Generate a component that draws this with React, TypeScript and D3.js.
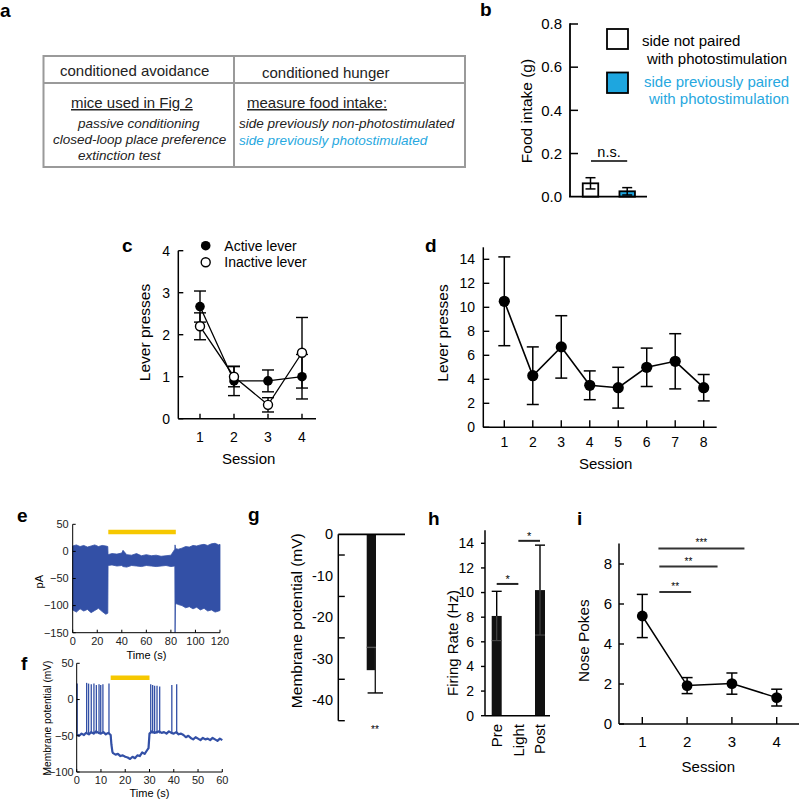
import React from "react";
import * as d3 from "d3";

const FONT = "'Liberation Sans', Arial, Helvetica, sans-serif";
const CYAN = "#1ea6df";
const CYAN_TXT = "#27a8e0";
const TRACE = "#3350a6";
const YELLOW = "#f6c800";

// ---------- a: table ----------
const tableHeaders = ["conditioned avoidance", "conditioned hunger"];
const tableLeftTitle = "mice used in Fig 2";
const tableLeftItems = ["passive conditioning", "closed-loop place preference", "extinction test"];
const tableRightTitle = "measure food intake:";
const tableRightItems = ["side previously non-photostimulated", "side previously photostimulated"];

// ---------- b ----------
const bLegendA = ["side not paired", "with photostimulation"];
const bLegendB = ["side previously paired", "with photostimulation"];
const bGroups = [0, 1];
const bMeans = [0.062, 0.025];
const bErr = [0.026, 0.017];
const bTicks = [0, 0.2, 0.4, 0.6, 0.8];

// ---------- c ----------
const cSessions = [1, 2, 3, 4];
const cActive = [2.67, 0.9, 0.9, 1.0];
const cActiveErr = [0.37, 0.35, 0.26, 0.53];
const cInactive = [2.2, 1.0, 0.33, 1.57];
const cInactiveErr = [0.32, 0.24, 0.17, 0.84];
const cTicks = [0, 1, 2, 3, 4];

// ---------- d ----------
const dSessions = [1, 2, 3, 4, 5, 6, 7, 8];
const dMeans = [10.5, 4.3, 6.7, 3.5, 3.3, 5.0, 5.5, 3.3];
const dErr = [3.7, 2.4, 2.6, 1.2, 1.7, 1.6, 2.3, 1.1];
const dTicks = [0, 2, 4, 6, 8, 10, 12, 14];

// ---------- e (current trace envelope, pA) ----------
const eTime = [0, 3, 6, 9, 12, 15, 18, 21, 24, 27, 28.6, 28.8, 32, 36, 40, 41, 44, 48, 52, 56, 60, 64, 68, 72, 76, 80, 83.2, 83.4, 83.7, 84.2, 86, 89, 92, 95, 98, 101, 104, 107, 110, 113, 116, 119, 120];
const eUpper = [10, 12, 9, 11, 8, 10, 12, 9, 11, 10, 9, -6, -4, -5, -3, 2, -6, -7, -4, -8, -6, -8, -7, -9, -8, -7, 4, 12, 6, 5, 4, 6, 9, 8, 11, 10, 12, 13, 11, 14, 15, 12, 13];
const eLower = [-108, -112, -106, -110, -107, -113, -109, -105, -111, -116, -114, -26, -25, -27, -26, -28, -29, -26, -27, -28, -26, -27, -28, -27, -26, -28, -27, -150, -100, -96, -98, -100, -104, -102, -106, -103, -108, -105, -110, -108, -112, -110, -109];
const eXTicks = [0, 20, 40, 60, 80, 100, 120];
const eYTicks = [-150, -100, -50, 0, 50];
const eLight = [29, 84];
const eLightLevel = 36;

// ---------- f (membrane potential trace, mV) ----------
const fTime = [0, 1, 2, 3, 3.8, 5, 6, 7, 8, 9, 10, 11, 12, 13, 14, 14.3, 14.7, 15, 16, 17, 18, 19, 20, 21, 22, 23, 24, 25, 26, 27, 28, 29, 29.6, 30, 31, 32, 33, 34, 35, 36, 37, 38, 39, 40, 41, 42, 43, 44, 45, 46, 47, 48, 49, 50, 51, 52, 53, 54, 55, 56, 57, 58, 59, 60];
const fVm = [-48, -50, -47, -49, -46, -48, -45, -47, -44, -46, -47, -45, -48, -46, -49, -62, -72, -74, -76, -75, -78, -77, -79, -80, -82, -79, -81, -77, -78, -73, -75, -70, -67, -47, -44, -46, -45, -44, -46, -45, -47, -44, -46, -47, -45, -48, -47, -49, -52, -50, -53, -55, -52, -54, -56, -53, -55, -54, -56, -53, -55, -57, -54, -56];
const fSpikeTimes = [0.2, 4.1, 4.9, 6.0, 7.1, 8.1, 9.2, 9.9, 10.8, 13.3, 30.5, 31.3, 32.1, 33.1, 34.2, 39.2, 41.2];
const fSpikePeaks = [22, 23, 22, 21, 22, 20, 21, 20, 21, 22, 21, 20, 19, 19, 18, 20, 21];
const fXTicks = [0, 10, 20, 30, 40, 50, 60];
const fYTicks = [-100, -50, 0, 50];
const fLight = [14, 30];
const fLightLevel = 30;

// ---------- g ----------
const gMean = -32.8;
const gErr = 5.5;
const gLabelTicks = [0, -10, -20, -30, -40];
const gMinorTicks = [-5, -15, -25, -35, -45];

// ---------- h ----------
const hCats = ["Pre", "Light", "Post"];
const hMeans = [8.1, 0.05, 10.2];
const hErr = [2.0, 0, 3.65];
const hTicks = [0, 2, 4, 6, 8, 10, 12, 14];
const hSig = [{ from: "Pre", to: "Light", level: 10.7, label: "*" }, { from: "Light", to: "Post", level: 14.2, label: "*" }];

// ---------- i ----------
const iSessions = [1, 2, 3, 4];
const iMeans = [5.4, 1.92, 2.02, 1.32];
const iErr = [1.08, 0.4, 0.53, 0.42];
const iTicks = [0, 2, 4, 6, 8];
const iSig = [
  { from: 1.38, to: 2.09, level: 6.6, label: "**" },
  { from: 1.38, to: 2.68, level: 7.87, label: "**" },
  { from: 1.36, to: 3.28, level: 8.78, label: "***" },
];

const PanelLabel = ({ x, y, t }: { x: number; y: number; t: string }) => (
  <text x={x} y={y} fontSize={19} fontWeight="bold" fontFamily={FONT}>{t}</text>
);

const YTitle = ({ cx, cy, size, t }: { cx: number; cy: number; size: number; t: string }) => (
  <text transform={`translate(${cx + size * 0.35},${cy}) rotate(-90)`} textAnchor="middle" fontSize={size} fontFamily={FONT}>{t}</text>
);

function PanelA() {
  const L = 43.5, R = 465, T = 56, M = 83, B = 167, C = 234;
  return (
    <g fontFamily={FONT}>
      <PanelLabel x={0} y={17} t="a" />
      <rect x={L} y={T} width={R - L} height={B - T} fill="none" stroke="#9a9a9a" strokeWidth={2} />
      <line x1={L} x2={R} y1={M} y2={M} stroke="#9a9a9a" strokeWidth={2} />
      <line x1={C} x2={C} y1={T} y2={B} stroke="#9a9a9a" strokeWidth={2} />
      <text x={60} y={76} fontSize={15} fill="#222">{tableHeaders[0]}</text>
      <text x={262} y={78} fontSize={15} fill="#222">{tableHeaders[1]}</text>
      <text x={71} y={108} fontSize={15} fill="#222" style={{ textDecoration: "underline" }}>{tableLeftTitle}</text>
      <text x={78} y={128} fontSize={13.5} fontStyle="italic" fill="#222">{tableLeftItems[0]}</text>
      <text x={53} y={144} fontSize={13.5} fontStyle="italic" fill="#222">{tableLeftItems[1]}</text>
      <text x={78} y={160} fontSize={13.5} fontStyle="italic" fill="#222">{tableLeftItems[2]}</text>
      <text x={247} y={108} fontSize={15} fill="#222" style={{ textDecoration: "underline" }}>{tableRightTitle}</text>
      <text x={239} y={128} fontSize={13.5} fontStyle="italic" fill="#222">{tableRightItems[0]}</text>
      <text x={239} y={145} fontSize={13.5} fontStyle="italic" fill={CYAN_TXT}>{tableRightItems[1]}</text>
    </g>
  );
}

function PanelB() {
  const y = d3.scaleLinear().domain([0, 0.8]).range([196.7, 24]);
  const x = d3.scalePoint<number>().domain(bGroups).range([590.5, 627.2]);
  const bw = 15.5;
  const fills = ["#fff", CYAN];
  return (
    <g fontFamily={FONT}>
      <PanelLabel x={480} y={16} t="b" />
      {bGroups.map((g, i) => (
        <g key={g}>
          <rect x={x(g)! - bw / 2} y={y(bMeans[i])} width={bw} height={y(0) - y(bMeans[i])} fill={fills[i]} stroke="#000" strokeWidth={1.8} />
          <line x1={x(g)} x2={x(g)} y1={y(bMeans[i] + bErr[i])} y2={y(bMeans[i] - bErr[i])} stroke="#000" strokeWidth={1.5} />
          <line x1={x(g)! - 5} x2={x(g)! + 5} y1={y(bMeans[i] + bErr[i])} y2={y(bMeans[i] + bErr[i])} stroke="#000" strokeWidth={1.5} />
          <line x1={x(g)! - 5} x2={x(g)! + 5} y1={y(bMeans[i] - bErr[i])} y2={y(bMeans[i] - bErr[i])} stroke="#000" strokeWidth={1.5} />
        </g>
      ))}
      <line x1={570} x2={570} y1={y(0.8) - 0.7} y2={y(0)} stroke="#000" strokeWidth={1.8} />
      <line x1={569} x2={647} y1={y(0)} y2={y(0)} stroke="#000" strokeWidth={1.8} />
      {bTicks.map((t) => (
        <g key={t}>
          {t > 0 && <line x1={570} x2={578} y1={y(t)} y2={y(t)} stroke="#000" strokeWidth={1.5} />}
          <text x={562} y={y(t)} dy="0.35em" textAnchor="end" fontSize={15}>{t.toFixed(1)}</text>
        </g>
      ))}
      <YTitle cx={527} cy={111} size={15.5} t="Food intake (g)" />
      <text x={609} y={157} textAnchor="middle" fontSize={14.5}>n.s.</text>
      <line x1={x(0)! + 0.5} x2={x(1)!} y1={161} y2={161} stroke="#000" strokeWidth={1.5} />
      <rect x={607} y={29} width={21} height={20} fill="#fff" stroke="#000" strokeWidth={1.8} />
      <rect x={607} y={72.5} width={21} height={20.5} fill={CYAN} stroke="#000" strokeWidth={1.8} />
      <text x={642} y={46} fontSize={15}>{bLegendA[0]}</text>
      <text x={647} y={64} fontSize={15}>{bLegendA[1]}</text>
      <text x={644} y={87} fontSize={15} fill={CYAN_TXT}>{bLegendB[0]}</text>
      <text x={649} y={104} fontSize={15} fill={CYAN_TXT}>{bLegendB[1]}</text>
    </g>
  );
}

function PanelC() {
  const x = d3.scaleLinear().domain([1, 4]).range([200, 302]);
  const y = d3.scaleLinear().domain([0, 4]).range([418.7, 250.7]);
  const ax = 178.3;
  const line = (vals: number[]) => d3.line<number>().x((_, i) => x(cSessions[i])).y((d) => y(d))(vals) || "";
  const errs = (vals: number[], e: number[]) =>
    vals.map((v, i) => {
      const cx = x(cSessions[i]);
      return (
        <g key={i} stroke="#000" strokeWidth={1.4}>
          <line x1={cx} x2={cx} y1={y(v + e[i])} y2={y(v - e[i])} />
          <line x1={cx - 6} x2={cx + 6} y1={y(v + e[i])} y2={y(v + e[i])} />
          <line x1={cx - 6} x2={cx + 6} y1={y(v - e[i])} y2={y(v - e[i])} />
        </g>
      );
    });
  return (
    <g fontFamily={FONT}>
      <PanelLabel x={122} y={252} t="c" />
      <line x1={ax} x2={ax} y1={y(4)} y2={y(0)} stroke="#000" strokeWidth={1.5} />
      <line x1={ax} x2={316} y1={y(0)} y2={y(0)} stroke="#000" strokeWidth={1.5} />
      {cTicks.map((t) => (
        <g key={t}>
          <line x1={ax} x2={ax + 5} y1={y(t)} y2={y(t)} stroke="#000" strokeWidth={1.4} />
          <text x={170} y={y(t)} dy="0.35em" textAnchor="end" fontSize={14}>{t}</text>
        </g>
      ))}
      {cSessions.map((s) => (
        <g key={s}>
          <line x1={x(s)} x2={x(s)} y1={y(0)} y2={y(0) - 5} stroke="#000" strokeWidth={1.4} />
          <text x={x(s)} y={442.3} textAnchor="middle" fontSize={14}>{s}</text>
        </g>
      ))}
      <text x={248.7} y={464.3} textAnchor="middle" fontSize={15}>Session</text>
      <YTitle cx={145} cy={332.5} size={15.5} t="Lever presses" />
      <path d={line(cActive)} fill="none" stroke="#000" strokeWidth={1.3} />
      <path d={line(cInactive)} fill="none" stroke="#000" strokeWidth={1.3} />
      {errs(cActive, cActiveErr)}
      {errs(cInactive, cInactiveErr)}
      {cActive.map((v, i) => <circle key={"a" + i} cx={x(cSessions[i])} cy={y(v)} r={4.8} fill="#000" />)}
      {cInactive.map((v, i) => <circle key={"b" + i} cx={x(cSessions[i])} cy={y(v)} r={4.5} fill="#fff" stroke="#000" strokeWidth={1.4} />)}
      <circle cx={205.7} cy={245.7} r={4.8} fill="#000" />
      <text x={224.3} y={250.5} fontSize={14}>Active lever</text>
      <circle cx={205.7} cy={262.3} r={4.5} fill="#fff" stroke="#000" strokeWidth={1.4} />
      <text x={224.3} y={267} fontSize={14}>Inactive lever</text>
    </g>
  );
}

function PanelD() {
  const x = d3.scaleLinear().domain([1, 8]).range([504.3, 703.7]);
  const y = d3.scaleLinear().domain([0, 14]).range([427.3, 259.3]);
  const ax = 483.3;
  const path = d3.line<number>().x((_, i) => x(dSessions[i])).y((d) => y(d))(dMeans) || "";
  return (
    <g fontFamily={FONT}>
      <PanelLabel x={425} y={252} t="d" />
      <line x1={ax} x2={ax} y1={y(15)} y2={y(0)} stroke="#000" strokeWidth={1.5} />
      <line x1={ax} x2={716.7} y1={y(0)} y2={y(0)} stroke="#000" strokeWidth={1.5} />
      {dTicks.map((t) => (
        <g key={t}>
          <line x1={ax} x2={ax + 6} y1={y(t)} y2={y(t)} stroke="#000" strokeWidth={1.4} />
          <text x={475} y={y(t)} dy="0.35em" textAnchor="end" fontSize={14}>{t}</text>
        </g>
      ))}
      {dSessions.map((s) => (
        <g key={s}>
          <line x1={x(s)} x2={x(s)} y1={y(0)} y2={y(0) - 7} stroke="#000" strokeWidth={1.4} />
          <text x={x(s)} y={447} textAnchor="middle" fontSize={14}>{s}</text>
        </g>
      ))}
      <text x={605.7} y={469} textAnchor="middle" fontSize={15}>Session</text>
      <YTitle cx={443} cy={333} size={15.5} t="Lever presses" />
      <path d={path} fill="none" stroke="#000" strokeWidth={1.6} />
      {dMeans.map((v, i) => {
        const cx = x(dSessions[i]);
        return (
          <g key={i} stroke="#000" strokeWidth={1.5}>
            <line x1={cx} x2={cx} y1={y(v + dErr[i])} y2={y(v - dErr[i])} />
            <line x1={cx - 6} x2={cx + 6} y1={y(v + dErr[i])} y2={y(v + dErr[i])} />
            <line x1={cx - 6} x2={cx + 6} y1={y(v - dErr[i])} y2={y(v - dErr[i])} />
          </g>
        );
      })}
      {dMeans.map((v, i) => <circle key={i} cx={x(dSessions[i])} cy={y(v)} r={5.6} fill="#000" />)}
    </g>
  );
}

function PanelE() {
  const x = d3.scaleLinear().domain([0, 120]).range([72.7, 220]);
  const y = d3.scaleLinear().domain([-150, 50]).range([632.7, 524.3]);
  const area = d3.area<number>().x((_, i) => x(eTime[i])).y0((_, i) => y(eLower[i])).y1((d) => y(d))(eUpper) || "";
  const fmt = d3.format("");
  return (
    <g fontFamily={FONT}>
      <PanelLabel x={17} y={522} t="e" />
      <path d={area} fill={TRACE} stroke={TRACE} strokeWidth={0.8} />
      <line x1={x(eLight[0])} x2={x(eLight[1])} y1={y(eLightLevel)} y2={y(eLightLevel)} stroke={YELLOW} strokeWidth={4.5} />
      <line x1={x(0)} x2={x(0)} y1={y(50)} y2={y(-150)} stroke="#000" strokeWidth={1} />
      <line x1={x(0)} x2={x(120)} y1={y(-150)} y2={y(-150)} stroke="#000" strokeWidth={1} />
      {eYTicks.map((t) => (
        <g key={t}>
          <line x1={x(0)} x2={x(0) + 3} y1={y(t)} y2={y(t)} stroke="#000" />
          <text x={x(0) - 4} y={y(t)} dy="0.35em" textAnchor="end" fontSize={11} fill="#222">{fmt(t)}</text>
        </g>
      ))}
      {eXTicks.map((t) => (
        <g key={t}>
          <line x1={x(t)} x2={x(t)} y1={y(-150)} y2={y(-150) - 3} stroke="#000" />
          <text x={x(t)} y={645} textAnchor="middle" fontSize={11} fill="#222">{t}</text>
        </g>
      ))}
      <text x={146.5} y={659} textAnchor="middle" fontSize={11}>Time (s)</text>
      <YTitle cx={39} cy={581.7} size={11} t="pA" />
    </g>
  );
}

function PanelF() {
  const x = d3.scaleLinear().domain([0, 60]).range([76.7, 222.3]);
  const y = d3.scaleLinear().domain([-100, 50]).range([772, 663.3]);
  const path = d3.line<number>().x((_, i) => x(fTime[i])).y((d) => y(d))(fVm) || "";
  const fmt = d3.format("");
  return (
    <g fontFamily={FONT}>
      <PanelLabel x={21} y={670} t="f" />
      <path d={path} fill="none" stroke={TRACE} strokeWidth={2.2} strokeLinejoin="round" />
      {fSpikeTimes.map((t, i) => (
        <line key={i} x1={x(t)} x2={x(t)} y1={y(fSpikePeaks[i])} y2={y(-47)} stroke={TRACE} strokeWidth={1.3} />
      ))}
      <line x1={x(fLight[0])} x2={x(fLight[1])} y1={y(fLightLevel)} y2={y(fLightLevel)} stroke={YELLOW} strokeWidth={4.5} />
      <line x1={x(0)} x2={x(0)} y1={y(50)} y2={y(-100)} stroke="#000" strokeWidth={1} />
      <line x1={x(0)} x2={x(60)} y1={y(-100)} y2={y(-100)} stroke="#000" strokeWidth={1} />
      {fYTicks.map((t) => (
        <g key={t}>
          <line x1={x(0)} x2={x(0) + 3} y1={y(t)} y2={y(t)} stroke="#000" />
          <text x={x(0) - 3} y={y(t)} dy="0.35em" textAnchor="end" fontSize={11} fill="#222">{fmt(t)}</text>
        </g>
      ))}
      {fXTicks.map((t) => (
        <g key={t}>
          <line x1={x(t)} x2={x(t)} y1={y(-100)} y2={y(-100) - 3} stroke="#000" />
          <text x={x(t)} y={784} textAnchor="middle" fontSize={11} fill="#222">{t}</text>
        </g>
      ))}
      <text x={149.5} y={797} textAnchor="middle" fontSize={11}>Time (s)</text>
      <YTitle cx={47} cy={718} size={10.2} t="Membrane potential (mV)" />
    </g>
  );
}

function PanelG() {
  const y = d3.scaleLinear().domain([-45, 0]).range([720.7, 534.3]);
  const ax = 338.3;
  const bx = 366.7, bw = 9.3, ex = 375.3;
  return (
    <g fontFamily={FONT}>
      <PanelLabel x={248} y={521} t="g" />
      <rect x={bx} y={y(0)} width={bw} height={y(gMean) - y(0)} fill="#111" />
      <line x1={ex} x2={ex} y1={y(gMean + gErr)} y2={y(gMean - gErr)} stroke="#222" strokeWidth={1.4} />
      <line x1={bx} x2={bx + bw} y1={y(gMean + gErr)} y2={y(gMean + gErr)} stroke="#555" strokeWidth={1.4} />
      <line x1={ex - 7.7} x2={ex + 7.7} y1={y(gMean - gErr)} y2={y(gMean - gErr)} stroke="#000" strokeWidth={1.4} />
      <line x1={ax} x2={ax} y1={y(0)} y2={y(-45)} stroke="#000" strokeWidth={1.5} />
      <line x1={ax} x2={405} y1={y(0)} y2={y(0)} stroke="#000" strokeWidth={1.8} />
      {gMinorTicks.map((t) => (
        <line key={t} x1={ax} x2={ax + 6.5} y1={y(t)} y2={y(t)} stroke="#000" strokeWidth={1.4} />
      ))}
      {gLabelTicks.map((t) => (
        <text key={t} x={333} y={y(t)} dy="0.35em" textAnchor="end" fontSize={14.5}>{String(t)}</text>
      ))}
      <text x={375} y={733} textAnchor="middle" fontSize={10}>**</text>
      <YTitle cx={296.7} cy={620.7} size={15.5} t="Membrane potential (mV)" />
    </g>
  );
}

function PanelH() {
  const y = d3.scaleLinear().domain([0, 14]).range([715.7, 543.3]);
  const x = d3.scalePoint<string>().domain(hCats).range([496.7, 540]);
  const ax = 485, bw = 10;
  return (
    <g fontFamily={FONT}>
      <PanelLabel x={428} y={525} t="h" />
      {hCats.map((c, i) => {
        const cx = x(c)!;
        return (
          <g key={c}>
            <rect x={cx - bw / 2} y={y(hMeans[i])} width={bw} height={y(0) - y(hMeans[i])} fill="#111" />
            {hErr[i] > 0 && (
              <g>
                <line x1={cx} x2={cx} y1={y(hMeans[i])} y2={y(hMeans[i] + hErr[i])} stroke="#000" strokeWidth={1.4} />
                <line x1={cx} x2={cx} y1={y(hMeans[i])} y2={y(hMeans[i] - hErr[i])} stroke="#444" strokeWidth={1.2} />
                <line x1={cx - bw / 2} x2={cx + bw / 2} y1={y(hMeans[i] + hErr[i])} y2={y(hMeans[i] + hErr[i])} stroke="#000" strokeWidth={1.4} />
                <line x1={cx - bw / 2} x2={cx + bw / 2} y1={y(hMeans[i] - hErr[i])} y2={y(hMeans[i] - hErr[i])} stroke="#444" strokeWidth={1.2} />
              </g>
            )}
            <text transform={`translate(${cx + 5.3},724) rotate(-90)`} textAnchor="end" fontSize={15}>{c}</text>
          </g>
        );
      })}
      <line x1={ax} x2={ax} y1={y(15.05)} y2={y(0)} stroke="#000" strokeWidth={1.5} />
      <line x1={ax} x2={550} y1={y(0)} y2={y(0)} stroke="#000" strokeWidth={1.5} />
      {hTicks.map((t) => (
        <g key={t}>
          <line x1={ax - 4} x2={ax} y1={y(t)} y2={y(t)} stroke="#000" strokeWidth={1.4} />
          <text x={474} y={y(t)} dy="0.35em" textAnchor="end" fontSize={14}>{t}</text>
        </g>
      ))}
      {hSig.map((s, i) => (
        <g key={i}>
          <line x1={x(s.from)!} x2={x(s.to)!} y1={y(s.level)} y2={y(s.level)} stroke="#222" strokeWidth={2} />
          <text x={(x(s.from)! + x(s.to)!) / 2} y={y(s.level) - 1} textAnchor="middle" fontSize={11}>{s.label}</text>
        </g>
      ))}
      <YTitle cx={453} cy={643} size={15} t="Firing Rate (Hz)" />
    </g>
  );
}

function PanelI() {
  const x = d3.scaleLinear().domain([1, 4]).range([642.3, 776.7]);
  const y = d3.scaleLinear().domain([0, 9]).range([724, 544]);
  const ax = 619;
  const path = d3.line<number>().x((_, i) => x(iSessions[i])).y((d) => y(d))(iMeans) || "";
  return (
    <g fontFamily={FONT}>
      <PanelLabel x={577} y={525} t="i" />
      <line x1={ax} x2={ax} y1={y(9.03)} y2={y(0)} stroke="#000" strokeWidth={1.5} />
      <line x1={ax} x2={799} y1={y(0)} y2={y(0)} stroke="#000" strokeWidth={1.5} />
      {iTicks.map((t) => (
        <g key={t}>
          <line x1={ax} x2={ax + 5} y1={y(t)} y2={y(t)} stroke="#000" strokeWidth={1.4} />
          <text x={612} y={y(t)} dy="0.35em" textAnchor="end" fontSize={15}>{t}</text>
        </g>
      ))}
      {iSessions.map((s) => (
        <g key={s}>
          <line x1={x(s)} x2={x(s)} y1={y(0)} y2={y(0) - 7} stroke="#000" strokeWidth={1.4} />
          <text x={x(s)} y={747.3} textAnchor="middle" fontSize={15}>{s}</text>
        </g>
      ))}
      <text x={708.3} y={771.7} textAnchor="middle" fontSize={15}>Session</text>
      <YTitle cx={583.3} cy={640.7} size={15.3} t="Nose Pokes" />
      <path d={path} fill="none" stroke="#000" strokeWidth={1.5} />
      {iMeans.map((v, i) => {
        const cx = x(iSessions[i]);
        return (
          <g key={i} stroke="#000" strokeWidth={1.5}>
            <line x1={cx} x2={cx} y1={y(v + iErr[i])} y2={y(v - iErr[i])} />
            <line x1={cx - 5.5} x2={cx + 5.5} y1={y(v + iErr[i])} y2={y(v + iErr[i])} />
            <line x1={cx - 5.5} x2={cx + 5.5} y1={y(v - iErr[i])} y2={y(v - iErr[i])} />
          </g>
        );
      })}
      {iMeans.map((v, i) => <circle key={i} cx={x(iSessions[i])} cy={y(v)} r={5.4} fill="#000" />)}
      {iSig.map((s, k) => (
        <g key={k}>
          <line x1={x(s.from)} x2={x(s.to)} y1={y(s.level)} y2={y(s.level)} stroke="#333" strokeWidth={2} />
          <text x={(x(s.from) + x(s.to)) / 2} y={y(s.level) - 2} textAnchor="middle" fontSize={10}>{s.label}</text>
        </g>
      ))}
    </g>
  );
}

export default function App() {
  return (
    <svg width={800} height={799} style={{ position: "absolute", left: 0, top: 0, background: "#fff" }}>
      <rect width={800} height={799} fill="#fff" />
      <PanelA />
      <PanelB />
      <PanelC />
      <PanelD />
      <PanelE />
      <PanelF />
      <PanelG />
      <PanelH />
      <PanelI />
    </svg>
  );
}
